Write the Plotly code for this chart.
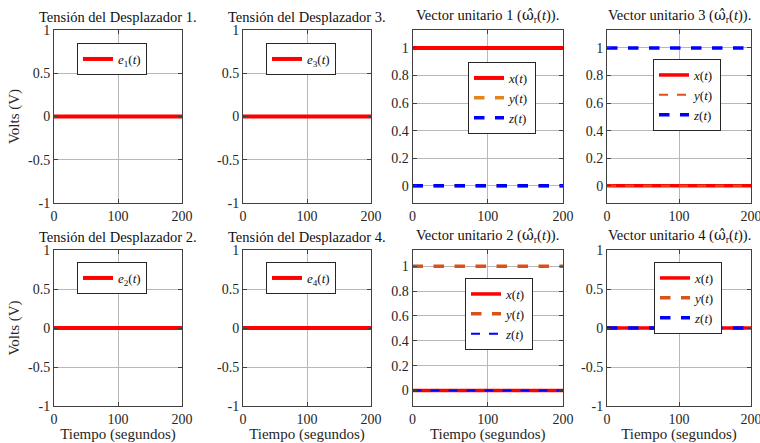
import plotly.graph_objects as go

# ---------------- data ----------------
t = [0, 200]
e1 = [0, 0]
e2 = [0, 0]
e3 = [0, 0]
e4 = [0, 0]
v1_x = [1, 1]; v1_y = [0, 0]; v1_z = [0, 0]
v2_x = [0, 0]; v2_y = [1, 1]; v2_z = [0, 0]
v3_x = [0, 0]; v3_y = [0, 0]; v3_z = [1, 1]
v4_x = [0, 0]; v4_y = [0, 0]; v4_z = [0, 0]

volt_ticks = [-1, -0.5, 0, 0.5, 1]
volt_labels = ["-1", "-0.5", "0", "0.5", "1"]
unit_ticks = [0, 0.2, 0.4, 0.6, 0.8, 1]
unit_labels = ["0", "0.2", "0.4", "0.6", "0.8", "1"]
time_ticks = [0, 100, 200]

OMEGA = "<span style=\"font-family:'DejaVu Serif'\">ω̂</span><sub>r</sub>(<i>t</i>)"
titles = {
    (1, 1): "Tensión del Desplazador 1.",
    (1, 2): "Tensión del Desplazador 3.",
    (1, 3): f"Vector unitario 1 ({OMEGA}).",
    (1, 4): f"Vector unitario 3 ({OMEGA}).",
    (2, 1): "Tensión del Desplazador 2.",
    (2, 2): "Tensión del Desplazador 4.",
    (2, 3): f"Vector unitario 2 ({OMEGA}).",
    (2, 4): f"Vector unitario 4 ({OMEGA}).",
}

W, H = 760, 443
FONT = "Times New Roman, Liberation Serif, serif"
RED = "#FF0000"
ORANGE1 = "#E0861A"
ORANGE = "#D95319"
BLUE = "#0000FF"

# pixel geometry
cols_px = [(54, 182), (243, 371), (412.5, 563), (607, 751)]
rows_px = [(30, 203), (250, 406)]


def px_x(x):
    return x / W


def px_y(y):
    return 1 - y / H


fig = go.Figure()
layout = dict(
    width=W, height=H, margin=dict(l=0, r=0, t=0, b=0, autoexpand=False),
    paper_bgcolor="white", plot_bgcolor="white",
    font=dict(family=FONT, size=14, color="#262626"),
    showlegend=True,
)

annotations = []
idx = 0
axis_map = {}
for r in range(2):
    for c in range(4):
        idx += 1
        axis_map[(r + 1, c + 1)] = idx
        xa = "xaxis" if idx == 1 else f"xaxis{idx}"
        ya = "yaxis" if idx == 1 else f"yaxis{idx}"
        x0, x1 = cols_px[c]
        y0, y1 = rows_px[r]
        common = dict(showline=True, linecolor="#404040", linewidth=1, mirror="ticks",
                      ticks="inside", ticklen=4, tickcolor="#404040", automargin=False,
                      showgrid=True, gridcolor="#b8b8b8", gridwidth=1, zeroline=False,
                      ticklabeloverflow="allow",
                      tickfont=dict(family=FONT, size=14, color="#262626"))
        layout[xa] = dict(common, domain=[px_x(x0), px_x(x1)], range=[0, 200],
                          tickvals=time_ticks, ticktext=[str(v) for v in time_ticks],
                          anchor=f"y{idx}" if idx > 1 else "y")
        if r == 1:
            layout[xa]["title"] = dict(text="Tiempo (segundos)", font=dict(family=FONT, size=15), standoff=2)
        if c < 2 or (r == 1 and c == 3):
            yr = [-1, 1]; tv = volt_ticks; tt = volt_labels
        else:
            yr = [-0.125, 1.13]; tv = unit_ticks; tt = unit_labels
        layout[ya] = dict(common, domain=[px_y(y1), px_y(y0)], range=yr,
                          tickvals=tv, ticktext=tt,
                          anchor=f"x{idx}" if idx > 1 else "x")
        if c == 0:
            layout[ya]["title"] = dict(text="Volts (V)", font=dict(family=FONT, size=15), standoff=4)
        annotations.append(dict(text=titles[(r + 1, c + 1)], x=px_x((x0 + x1) / 2), y=px_y(y0 - 3),
                                xref="paper", yref="paper", xanchor="center", yanchor="bottom",
                                showarrow=False, font=dict(family=FONT, size=14.5, color="#111111")))


def add(r, c, y, name, color, width, dash, legend):
    i = axis_map[(r, c)]
    fig.add_trace(go.Scatter(x=t, y=y, mode="lines", name=name,
                             line=dict(color=color, width=width, dash=dash),
                             xaxis="x" if i == 1 else f"x{i}",
                             yaxis="y" if i == 1 else f"y{i}",
                             legend=legend))


def leg_name(v):
    return f"<i>{v}</i>(<i>t</i>)"


def e_name(k):
    return f"<i>e</i><sub>{k}</sub>(<i>t</i>)"


add(1, 1, e1, e_name(1), RED, 4, "solid", "legend")
add(1, 2, e3, e_name(3), RED, 4, "solid", "legend2")
add(2, 1, e2, e_name(2), RED, 4, "solid", "legend5")
add(2, 2, e4, e_name(4), RED, 4, "solid", "legend6")

add(1, 3, v1_x, leg_name("x"), RED, 4, "solid", "legend3")
add(1, 3, v1_y, leg_name("y"), ORANGE1, 3.5, "dash", "legend3")
add(1, 3, v1_z, leg_name("z"), BLUE, 3.5, "dash", "legend3")

add(1, 4, v3_x, leg_name("x"), RED, 3.5, "solid", "legend4")
add(1, 4, v3_y, leg_name("y"), ORANGE, 2, "dash", "legend4")
add(1, 4, v3_z, leg_name("z"), BLUE, 3.5, "dash", "legend4")

add(2, 3, v2_x, leg_name("x"), RED, 3.5, "solid", "legend7")
add(2, 3, v2_y, leg_name("y"), ORANGE, 3.5, "dash", "legend7")
add(2, 3, v2_z, leg_name("z"), BLUE, 2, "dash", "legend7")

add(2, 4, v4_x, leg_name("x"), RED, 3.5, "solid", "legend8")
add(2, 4, v4_y, leg_name("y"), ORANGE, 3.5, "dash", "legend8")
add(2, 4, v4_z, leg_name("z"), BLUE, 3.5, "dash", "legend8")

leg_pos = {
    "legend": (77, 43), "legend2": (266, 43),
    "legend5": (77, 262), "legend6": (266, 262),
    "legend3": (468, 62), "legend4": (653, 59),
    "legend7": (465, 278), "legend8": (654, 262),
}
for key, (lx, ly) in leg_pos.items():
    layout[key] = dict(x=px_x(lx), y=px_y(ly), xref="paper", yref="paper",
                       xanchor="left", yanchor="top", bgcolor="white",
                       bordercolor="#262626", borderwidth=1,
                       font=dict(family=FONT, size=13, color="#111111"),
                       tracegroupgap=0, itemwidth=30)

layout["annotations"] = annotations
fig.update_layout(**layout)
fig.write_html("out.html", config={"displayModeBar": False},
               post_script="document.body.style.margin='0';document.body.style.overflow='hidden';")
